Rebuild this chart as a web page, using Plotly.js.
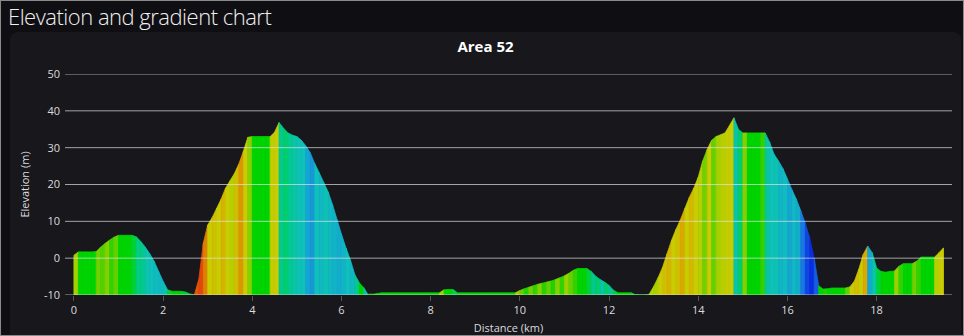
<!DOCTYPE html>
<html>
<head>
<meta charset="utf-8">
<script src="https://cdn.plot.ly/plotly-3.0.1.min.js"></script>
<style>
  html, body { margin: 0; padding: 0; background: #0f0f13; }
  #frame { position: relative; width: 964px; height: 336px; box-sizing: border-box;
           border: 1px solid #8a8a8a; background: #0f0f13; overflow: hidden; }
  #maintitle { position: absolute; left: 7px; top: 0px; margin: 0; font-family: "Open Sans", "Noto Sans", sans-serif;
               font-weight: 300; font-size: 22px; color: #f0f0f0; line-height: 30px; letter-spacing: -0.5px; }
  #panel { position: absolute; left: 9px; top: 31px; width: 951px; height: 310px;
           background: #17171c; border-radius: 8px; }
  #chart { position: absolute; left: 0; top: 0; width: 951px; height: 303px; }
</style>
</head>
<body>
<div id="frame">
  <div id="maintitle">Elevation and gradient chart</div>
  <div id="panel"><div id="chart"></div></div>
</div>
<script>
// Distance along route (km)
const distance = [
  0.0,0.1,0.2,0.3,0.4,0.5,0.6,0.7,0.8,0.9,
  1.0,1.1,1.2,1.3,1.4,1.5,1.6,1.7,1.8,1.9,
  2.0,2.1,2.2,2.3,2.4,2.5,2.6,2.7,2.8,2.9,
  3.0,3.1,3.2,3.3,3.4,3.5,3.6,3.7,3.8,3.9,
  4.0,4.1,4.2,4.3,4.4,4.5,4.6,4.7,4.8,4.9,
  5.0,5.1,5.2,5.3,5.4,5.5,5.6,5.7,5.8,5.9,
  6.0,6.1,6.2,6.3,6.4,6.5,6.6,6.7,6.8,6.9,
  7.0,7.1,7.2,7.3,7.4,7.5,7.6,7.7,7.8,7.9,
  8.0,8.1,8.2,8.3,8.4,8.5,8.6,8.7,8.8,8.9,
  9.0,9.1,9.2,9.3,9.4,9.5,9.6,9.7,9.8,9.9,
  10.0,10.1,10.2,10.3,10.4,10.5,10.6,10.7,10.8,10.9,
  11.0,11.1,11.2,11.3,11.4,11.5,11.6,11.7,11.8,11.9,
  12.0,12.1,12.2,12.3,12.4,12.5,12.6,12.7,12.8,12.9,
  13.0,13.1,13.2,13.3,13.4,13.5,13.6,13.7,13.8,13.9,
  14.0,14.1,14.2,14.3,14.4,14.5,14.6,14.7,14.8,14.9,
  15.0,15.1,15.2,15.3,15.4,15.5,15.6,15.7,15.8,15.9,
  16.0,16.1,16.2,16.3,16.4,16.5,16.6,16.7,16.8,16.9,
  17.0,17.1,17.2,17.3,17.4,17.5,17.6,17.7,17.8,17.9,
  18.0,18.1,18.2,18.3,18.4,18.5,18.6,18.7,18.8,18.9,
  19.0,19.1,19.2,19.3,19.4,19.5
];
// Elevation (m) at each distance
const elevation = [
  0.8,1.7,1.7,1.7,1.7,1.8,3.0,4.0,4.9,5.7,
  6.2,6.2,6.2,6.2,5.8,4.5,3.0,1.2,-0.9,-3.6,
  -6.3,-8.6,-9.0,-9.0,-9.0,-9.2,-9.7,-10,-5.8,4.0,
  9.0,11.0,13.5,16.0,19.0,21.0,23.0,25.6,29.0,32.8,
  33.0,33.0,33.0,33.0,33.0,34.2,36.8,35.3,34.0,33.4,
  33.0,32.0,30.5,28.6,25.7,23.2,20.6,18.0,14.5,10.5,
  6.5,2.8,-0.5,-4.5,-6.7,-8.0,-9.8,-9.8,-9.6,-9.4,
  -9.4,-9.4,-9.4,-9.4,-9.4,-9.4,-9.4,-9.4,-9.4,-9.4,
  -9.4,-9.4,-9.4,-8.6,-8.5,-8.5,-9.4,-9.4,-9.4,-9.4,
  -9.4,-9.4,-9.4,-9.4,-9.4,-9.4,-9.4,-9.4,-9.4,-9.4,
  -8.8,-8.3,-7.9,-7.5,-7.1,-6.8,-6.5,-6.2,-5.8,-5.3,
  -4.8,-4.1,-3.3,-2.8,-2.8,-2.8,-3.6,-4.9,-5.8,-6.5,
  -7.4,-8.7,-9.4,-9.4,-9.4,-9.4,-9.9,-10,-10,-9.8,
  -7.7,-5.3,-2.5,1.2,4.8,7.8,10.4,13.5,16.5,19.0,
  22.0,26.4,29.5,32.0,33.0,33.5,34.0,36.0,38.1,35.0,
  34.0,34.0,34.0,34.0,34.0,34.0,31.5,28.2,26.4,24.3,
  21.5,18.6,16.0,12.8,9.5,5.4,0.0,-7.5,-8.4,-8.3,
  -8.1,-8.1,-8.1,-8.1,-7.8,-6.3,-3.0,1.0,3.3,1.5,
  -2.7,-3.6,-3.8,-3.6,-3.5,-2.2,-1.5,-1.5,-1.5,-0.8,
  0.3,0.3,0.3,0.3,1.5,2.8
];
// Gradient (%) of each segment between consecutive distances
const gradient = [
  2,0,0,0,0,1.2,0.8,1.5,0.5,1.0,
  0,0,0,-0.5,-1.2,-1.5,-2.2,-2.5,-2.6,-2.8,
  -2.3,-0.5,0,0,-0.3,-0.6,-0.4,7,8,5.5,
  3,3.5,3,4,3,2.5,3.5,5,3,1.5,
  0,0,0,0,2.8,3,-1.5,-1.0,-1.5,-2,
  -2.3,-2.5,-3.5,-3.8,-2.5,-2.8,-2.3,-2.8,-3.0,-3.2,
  -3.0,-2.5,-2.8,-1.5,0,-2.0,0,0,0,0,
  0,0,0,0,0,0,0,0,0,0,
  0,0,2,0,0,-0.8,0,0,0,0,
  0,0,0,0,0,0,0,0,0,2,
  1,0.3,1.2,0.5,1.5,0.4,1.0,0.3,1.5,0.5,
  1.8,1.0,0.5,0,0,-0.5,-1.5,-1.0,-2.0,-1.0,
  -1.8,-0.5,0,0,0,-0.5,0,0,0,2.5,
  2.0,3,3.5,4,3,3.5,4.5,3,3.8,3,
  2.5,1.2,3,1,2,2.5,2.8,3,-2,-1,
  1.5,0,0,0,0.5,-1.8,-2.5,-2.2,-3,-2.6,
  -3.5,-2.8,-3.2,-4.5,-5.5,-6,-5,0,0.2,0,
  0,0,0,1.0,3,3.5,3,4.5,-3.5,-2.0,
  -0.5,0,0,0,1.8,0.5,0,0,1.2,0.5,
  0,0,0,2.5,3
];
const yTicks = [-10, 0, 10, 20, 30, 40, 50];
const xTicks = [0, 2, 4, 6, 8, 10, 12, 14, 16, 18];
const chartTitle = "Area 52";
const xTitle = "Distance (km)";
const yTitle = "Elevation (m)";

// colour ramp for gradient
const stops = [
  [-6, [10, 45, 225]],
  [-4.5, [25, 120, 225]],
  [-3.5, [20, 165, 210]],
  [-2.5, [15, 192, 188]],
  [-1.2, [0, 204, 130]],
  [0, [0, 212, 0]],
  [1, [100, 208, 0]],
  [2, [165, 208, 0]],
  [3, [200, 204, 0]],
  [4.5, [218, 168, 0]],
  [6, [226, 110, 0]],
  [8, [226, 70, 12]]
];
function gradColor(g) {
  if (g <= stops[0][0]) return 'rgb(' + stops[0][1].join(',') + ')';
  for (let i = 1; i < stops.length; i++) {
    if (g <= stops[i][0]) {
      const a = stops[i-1], b = stops[i];
      const t = (g - a[0]) / (b[0] - a[0]);
      const c = a[1].map((v, k) => Math.round(v + (b[1][k] - v) * t));
      return 'rgb(' + c.join(',') + ')';
    }
  }
  return 'rgb(' + stops[stops.length-1][1].join(',') + ')';
}

const base = yTicks[0];
const traces = [];
for (let i = 0; i < distance.length - 1; i++) {
  const col = gradColor(gradient[i]);
  traces.push({
    type: 'scatter', mode: 'lines',
    x: [distance[i], distance[i+1], distance[i+1], distance[i], distance[i]],
    y: [elevation[i], elevation[i+1], base, base, elevation[i]],
    fill: 'toself', fillcolor: col,
    line: { color: col, width: 0.8 },
    hoverinfo: 'skip', showlegend: false
  });
}

const gridShapes = yTicks.map(v => ({
  type: 'line', xref: 'paper', yref: 'y', x0: 0, x1: 1, y0: v, y1: v,
  layer: 'above', line: { color: 'rgba(225,225,225,0.7)', width: 1 }
}));

const font = "'Open Sans', 'Noto Sans', sans-serif";
const layout = {
  width: 951, height: 303,
  paper_bgcolor: 'rgba(0,0,0,0)', plot_bgcolor: 'rgba(0,0,0,0)',
  margin: { l: 55, r: 9, t: 42, b: 40 },
  font: { family: font, color: '#dcdcdc', size: 11 },
  title: { text: '<b>' + chartTitle + '</b>', x: 0.5, xanchor: 'center', y: 0.95, yanchor: 'middle',
           font: { family: font, size: 15, color: '#ffffff' } },
  xaxis: {
    range: [-0.2, 19.69], tickvals: xTicks, ticktext: xTicks.map(String),
    showgrid: false, zeroline: false, showline: false,
    ticks: 'outside', ticklen: 5, tickcolor: '#555', tickfont: { size: 11, color: '#dcdcdc' },
    title: { text: xTitle, font: { size: 11, color: '#dcdcdc' }, standoff: 8 }
  },
  yaxis: {
    range: [-10, 50], tickvals: yTicks, ticktext: yTicks.map(String),
    showgrid: false, zeroline: false, showline: false, ticks: '',
    tickfont: { size: 11, color: '#dcdcdc' }, ticklabelstandoff: 4,
    title: { text: yTitle, font: { size: 11, color: '#dcdcdc' }, standoff: 12 }
  },
  shapes: gridShapes
};
Plotly.newPlot('chart', traces, layout, { displayModeBar: false, staticPlot: true });
</script>
</body>
</html>
